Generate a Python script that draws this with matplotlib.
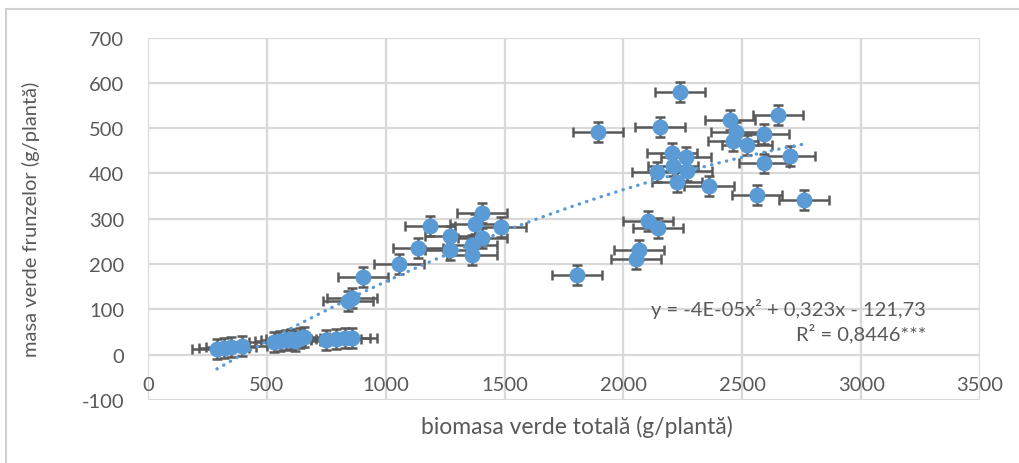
# masa verde frunzelor vs biomasa verde totala, cu linie de tendinta polinomiala
import numpy as np
import matplotlib.pyplot as plt
from matplotlib.lines import Line2D

biomasa = [290, 320, 350, 395,
           530, 555, 580, 600, 620, 640, 655,
           750, 790, 830, 860,
           840, 858, 906, 1057, 1137, 1186, 1270, 1270, 1364, 1364, 1407, 1376, 1404, 1484,
           1806, 1892, 2053, 2066, 2105, 2144, 2140, 2154, 2203, 2210, 2227, 2238, 2263,
           2266, 2360, 2448, 2462, 2472, 2519, 2561, 2593, 2593, 2652, 2701, 2761]
frunze = [13, 15, 17, 20,
          28, 30, 33, 35, 30, 37, 38,
          33, 35, 37, 37,
          118, 126, 171, 200, 235, 283, 261, 230, 220, 243, 258, 289, 312, 281,
          176, 491, 212, 231, 296, 279, 403, 502, 445, 417, 382, 580, 437,
          406, 372, 517, 471, 491, 463, 353, 487, 422, 530, 439, 342]
err_x = 105
err_y = 22

# coeficientii afisati in grafic
coef = [-4e-05, 0.323, -121.73]
ecuatie = 'y = -4E-05x² + 0,323x - 121,73'
r2_text = 'R² = 0,8446***'

gri = '#595959'
albastru = '#5B9BD5'
grila = '#D9D9D9'

plt.rcParams['font.family'] = ['Lato', 'DejaVu Sans']
plt.rcParams['axes.unicode_minus'] = False

fig = plt.figure(figsize=(10.2, 4.64), dpi=100)
ax = fig.add_axes([0.1451, 0.1358, 0.8157, 0.7812])

ax.errorbar(biomasa, frunze, xerr=err_x, yerr=err_y, fmt='none',
            ecolor=gri, elinewidth=1.8, capsize=3.5, capthick=1.8, zorder=3)
ax.plot(biomasa, frunze, 'o', color=albastru, ms=10.5, mec=albastru, zorder=4)

xt = np.linspace(min(biomasa), max(biomasa), 200)
ax.plot(xt, np.polyval(coef, xt), color=albastru, lw=2.4,
        linestyle=(0, (0.1, 2.2)), dash_capstyle='round', zorder=5)

ax.set_xlim(0, 3500)
ax.set_ylim(-100, 700)
ax.set_xticks(np.arange(0, 3501, 500))
ax.set_yticks(np.arange(-100, 701, 100))
ax.grid(True, color=grila, lw=1.6)
ax.set_axisbelow(True)
for s in ax.spines.values():
    s.set_visible(False)
ax.spines['bottom'].set_position(('data', 0))
ax.tick_params(length=0, labelsize=14.5, colors=gri)
ax.tick_params(axis='x', pad=15)
ax.tick_params(axis='y', pad=17)

ax.set_xlabel('biomasa verde totală (g/plantă)', fontsize=16.5, color=gri)
ax.set_ylabel('masa verde frunzelor (g/plantă)', fontsize=14.5, color=gri)
ax.xaxis.set_label_coords(0.516, -0.04)
ax.yaxis.set_label_coords(-0.13, 0.5)

ax.text(0.935, 0.253, ecuatie, transform=ax.transAxes, ha='right', va='center',
        fontsize=14.5, color=gri)
ax.text(0.935, 0.186, r2_text, transform=ax.transAxes, ha='right', va='center',
        fontsize=14.5, color=gri)

# chenarul graficului
fig.add_artist(Line2D([0.006, 1], [0.978, 0.978], color='#D0D0D0', lw=1.5))
fig.add_artist(Line2D([0.006, 0.006], [0, 0.978], color='#D0D0D0', lw=1.5))

fig.savefig('out.png', dpi=100)
